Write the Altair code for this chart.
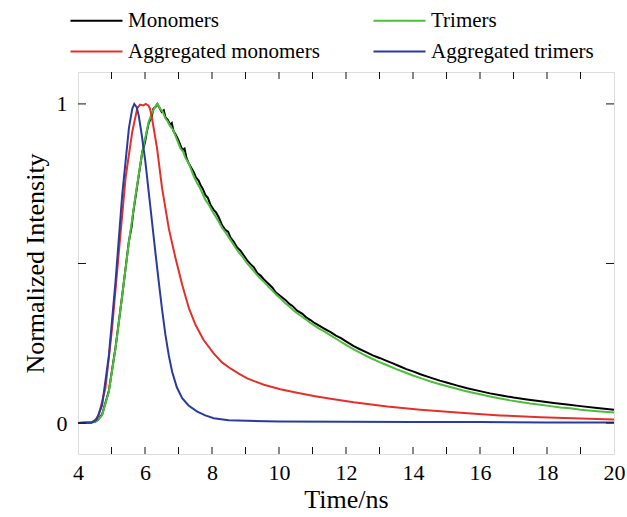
import altair as alt
import pandas as pd

# ---- data ----
mono_t = [4.0, 4.5, 4.6, 4.72, 4.92, 5.12, 5.32, 5.52, 5.6, 5.65, 5.72, 5.92, 6.0, 6.05, 6.11, 6.2, 6.25, 6.31, 6.37,
          6.42, 6.5, 6.56, 6.61, 6.68, 6.75, 6.8, 6.85, 6.91, 6.98, 7.06, 7.12, 7.18, 7.24, 7.3, 7.38, 7.46, 7.52, 7.6,
          7.66, 7.72, 7.8, 7.88, 7.95, 8.05, 8.12, 8.2, 8.3, 8.4, 8.48, 8.55, 8.65, 8.75, 8.85, 8.95, 9.05, 9.15, 9.25,
          9.35, 9.45, 9.55, 9.7, 9.8, 9.9, 10.04, 10.2, 10.3, 10.4, 10.54, 10.7, 10.8, 10.95, 11.04, 11.2, 11.35, 11.54,
          11.7, 11.85, 12.0, 12.23, 12.4, 12.6, 12.8, 13.0, 13.23, 13.4, 13.6, 13.8, 14.0, 14.22, 14.5, 14.8, 15.0, 15.3,
          15.62, 16.0, 16.3, 16.61, 17.0, 17.4, 17.81, 18.2, 18.6, 19.0, 19.5, 20.0]
mono_v = [0.0, 0.003, 0.01, 0.027, 0.1, 0.236, 0.40, 0.57, 0.615, 0.66, 0.71, 0.85, 0.88, 0.91, 0.94, 0.96, 0.985, 0.99, 1.0,
          0.99, 0.975, 0.98, 0.958, 0.95, 0.935, 0.94, 0.915, 0.905, 0.89, 0.87, 0.855, 0.86, 0.83, 0.815, 0.8, 0.785, 0.77, 0.76,
          0.745, 0.735, 0.715, 0.705, 0.685, 0.668, 0.66, 0.645, 0.62, 0.605, 0.6, 0.582, 0.568, 0.55, 0.54, 0.525, 0.51, 0.498, 0.488,
          0.47, 0.462, 0.45, 0.435, 0.425, 0.41, 0.398, 0.385, 0.374, 0.367, 0.352, 0.342, 0.332, 0.322, 0.315, 0.305, 0.296, 0.285,
          0.274, 0.266, 0.256, 0.241, 0.232, 0.222, 0.212, 0.204, 0.194, 0.187, 0.178, 0.169, 0.162, 0.153, 0.143, 0.133, 0.127, 0.118,
          0.109, 0.1, 0.093, 0.087, 0.08, 0.074, 0.068, 0.063, 0.058, 0.053, 0.047, 0.042]

tri_t = [4.0, 4.5, 4.6, 4.72, 4.92, 5.12, 5.32, 5.52, 5.72, 5.92, 6.11, 6.22, 6.31, 6.37, 6.45, 6.53, 6.61, 6.68, 6.75,
         6.83, 6.91, 7.06, 7.14, 7.21, 7.3, 7.46, 7.56, 7.65, 7.8, 7.9, 8.05, 8.18, 8.3, 8.42, 8.55, 8.7, 8.8, 8.92, 9.05, 9.18,
         9.3, 9.42, 9.55, 9.68, 9.8, 9.92, 10.04, 10.18, 10.3, 10.42, 10.54, 10.68, 10.8, 10.92, 11.04, 11.2, 11.35, 11.54, 11.75,
         12.0, 12.23, 12.5, 12.75, 13.0, 13.23, 13.5, 13.75, 14.0, 14.25, 14.5, 14.75, 15.0, 15.25, 15.5, 15.75, 16.0, 16.3,
         16.6, 16.9, 17.2, 17.5, 17.8, 18.1, 18.4, 18.7, 19.0, 19.5, 20.0]
tri_v = [0.0, 0.003, 0.01, 0.025, 0.098, 0.234, 0.40, 0.568, 0.715, 0.85, 0.944, 0.975, 0.992, 1.0, 0.985, 0.975, 0.955, 0.945, 0.93,
         0.92, 0.9, 0.86, 0.85, 0.83, 0.815, 0.772, 0.751, 0.735, 0.70, 0.685, 0.657, 0.635, 0.612, 0.595, 0.574, 0.55, 0.535, 0.52, 0.50, 0.485,
         0.47, 0.455, 0.443, 0.428, 0.415, 0.402, 0.391, 0.376, 0.366, 0.354, 0.344, 0.334, 0.325, 0.315, 0.307, 0.296, 0.287, 0.275, 0.261,
         0.245, 0.231, 0.216, 0.203, 0.191, 0.181, 0.169, 0.159, 0.149, 0.14, 0.131, 0.123, 0.116, 0.109, 0.102, 0.096, 0.09, 0.083,
         0.077, 0.071, 0.066, 0.061, 0.057, 0.053, 0.049, 0.046, 0.042, 0.037, 0.033]

aggmono_t = [4.0, 4.4, 4.5, 4.62, 4.82, 5.02, 5.22, 5.42, 5.62, 5.77, 5.85, 5.95, 6.02, 6.1, 6.15, 6.21, 6.36, 6.51, 6.71,
             6.91, 7.11, 7.31, 7.51, 7.75, 8.05, 8.3, 8.55, 8.8, 9.05, 9.55, 10.04, 10.54, 11.04, 11.54, 12.23, 13.23, 14.22,
             15.42, 16.6, 17.81, 19.0, 20.0]
aggmono_v = [0.0, 0.002, 0.008, 0.025, 0.11, 0.30, 0.537, 0.768, 0.913, 0.987, 0.998, 0.995, 1.0, 0.995, 0.985, 0.955, 0.861, 0.736, 0.61,
             0.517, 0.433, 0.36, 0.307, 0.26, 0.218, 0.19, 0.171, 0.155, 0.14, 0.12, 0.106, 0.095, 0.085, 0.076, 0.065, 0.052, 0.042,
             0.032, 0.024, 0.018, 0.014, 0.011]

aggtri_t = [4.0, 4.4, 4.55, 4.72, 4.92, 5.12, 5.32, 5.52, 5.62, 5.68, 5.75, 5.81, 5.9, 6.01, 6.11, 6.21, 6.31, 6.41, 6.51,
            6.61, 6.71, 6.81, 6.95, 7.11, 7.3, 7.56, 7.8, 8.05, 8.5, 9.05, 10.0, 12.0, 14.0, 16.0, 18.0, 20.0]
aggtri_v = [0.0, 0.001, 0.01, 0.056, 0.21, 0.443, 0.715, 0.924, 0.985, 1.0, 0.99, 0.965, 0.905, 0.82, 0.725, 0.63, 0.535, 0.443, 0.355,
            0.276, 0.212, 0.161, 0.112, 0.078, 0.055, 0.036, 0.024, 0.015, 0.009, 0.007, 0.005, 0.004, 0.003, 0.003, 0.002, 0.002]

# legend order (filled column by column): Monomers / Aggregated monomers | Trimers / Aggregated trimers
legend_order = ["Monomers", "Aggregated monomers", "Trimers", "Aggregated trimers"]
legend_colors = ["#000000", "#e5302a", "#4cbf3a", "#2a3b9e"]
draw_order = ["Monomers", "Trimers", "Aggregated monomers", "Aggregated trimers"]

x_tick_positions = list(range(5, 20))
y_tick_positions = [0, 0.5, 1]
x_label_values = [4, 6, 8, 10, 12, 14, 16, 18, 20]
y_label_values = [0, 1]

FONT = "Liberation Serif"
W, H = 536, 382
XDOM = [4, 20]
YDOM = [-0.097, 1.1]

def frame(name, ts, vs):
    return pd.DataFrame({"t": ts, "v": vs, "series": name})

dfs = {
    "Monomers": frame("Monomers", mono_t, mono_v),
    "Trimers": frame("Trimers", tri_t, tri_v),
    "Aggregated monomers": frame("Aggregated monomers", aggmono_t, aggmono_v),
    "Aggregated trimers": frame("Aggregated trimers", aggtri_t, aggtri_v),
}

xscale = alt.Scale(domain=XDOM, nice=False, zero=False)
yscale = alt.Scale(domain=YDOM, nice=False, zero=False)
color = alt.Color(
    "series:N",
    scale=alt.Scale(domain=legend_order, range=legend_colors),
    title=None,
    legend=alt.Legend(
        orient="none", legendX=8, legendY=-62, direction="vertical", columns=2,
        columnPadding=49, rowPadding=9, symbolType="M-5.2,0H5.2", symbolSize=100,
        symbolStrokeWidth=2, labelFont=FONT, labelFontSize=21, labelOffset=21,
        labelColor="black", padding=0, labelLimit=400,
    ),
)

xaxis = alt.Axis(values=x_label_values, ticks=False, tickSize=0, domain=False, grid=False,
                 labelFont=FONT, labelFontSize=22, labelColor="black", labelPadding=8,
                 title="Time/ns", titleFont=FONT, titleFontSize=26, titleFontWeight="normal",
                 titleColor="black", titlePadding=3, labelFlush=False, format="d")
yaxis = alt.Axis(values=y_label_values, ticks=False, tickSize=0, domain=False, grid=False,
                 labelFont=FONT, labelFontSize=22, labelColor="black", labelPadding=11,
                 title="Normalized Intensity", titleFont=FONT, titleFontSize=26,
                 titleFontWeight="normal", titleColor="black", titlePadding=8, labelFlush=False,
                 format="d")

X = alt.X("t:Q", scale=xscale, axis=xaxis)
Y = alt.Y("v:Q", scale=yscale, axis=yaxis)

layers = []
for name in draw_order:
    layers.append(alt.Chart(dfs[name]).mark_line(strokeWidth=2, clip=True).encode(x=X, y=Y, color=color))

xt = pd.DataFrame({"t": x_tick_positions})
yt = pd.DataFrame({"v": y_tick_positions})
tick_col = "#111111"
bx = alt.Chart(xt).mark_rule(color=tick_col, strokeWidth=1).encode(x=X, y=alt.value(H), y2=alt.value(H - 7))
tx = alt.Chart(xt).mark_rule(color=tick_col, strokeWidth=1).encode(x=X, y=alt.value(0), y2=alt.value(7))
ly = alt.Chart(yt).mark_rule(color=tick_col, strokeWidth=1).encode(y=Y, x=alt.value(0), x2=alt.value(8))
ry = alt.Chart(yt).mark_rule(color=tick_col, strokeWidth=1).encode(y=Y, x=alt.value(W), x2=alt.value(W - 8))

chart = alt.layer(*layers, bx, tx, ly, ry).properties(
    width=W, height=H,
    autosize=alt.AutoSizeParams(type="none"),
    padding={"left": 78, "top": 72, "right": 13, "bottom": 63},
).configure_view(stroke="#111111", strokeWidth=1.3).configure(background="white")

chart.save("out.html", embed_options={"renderer": "svg", "actions": False})
